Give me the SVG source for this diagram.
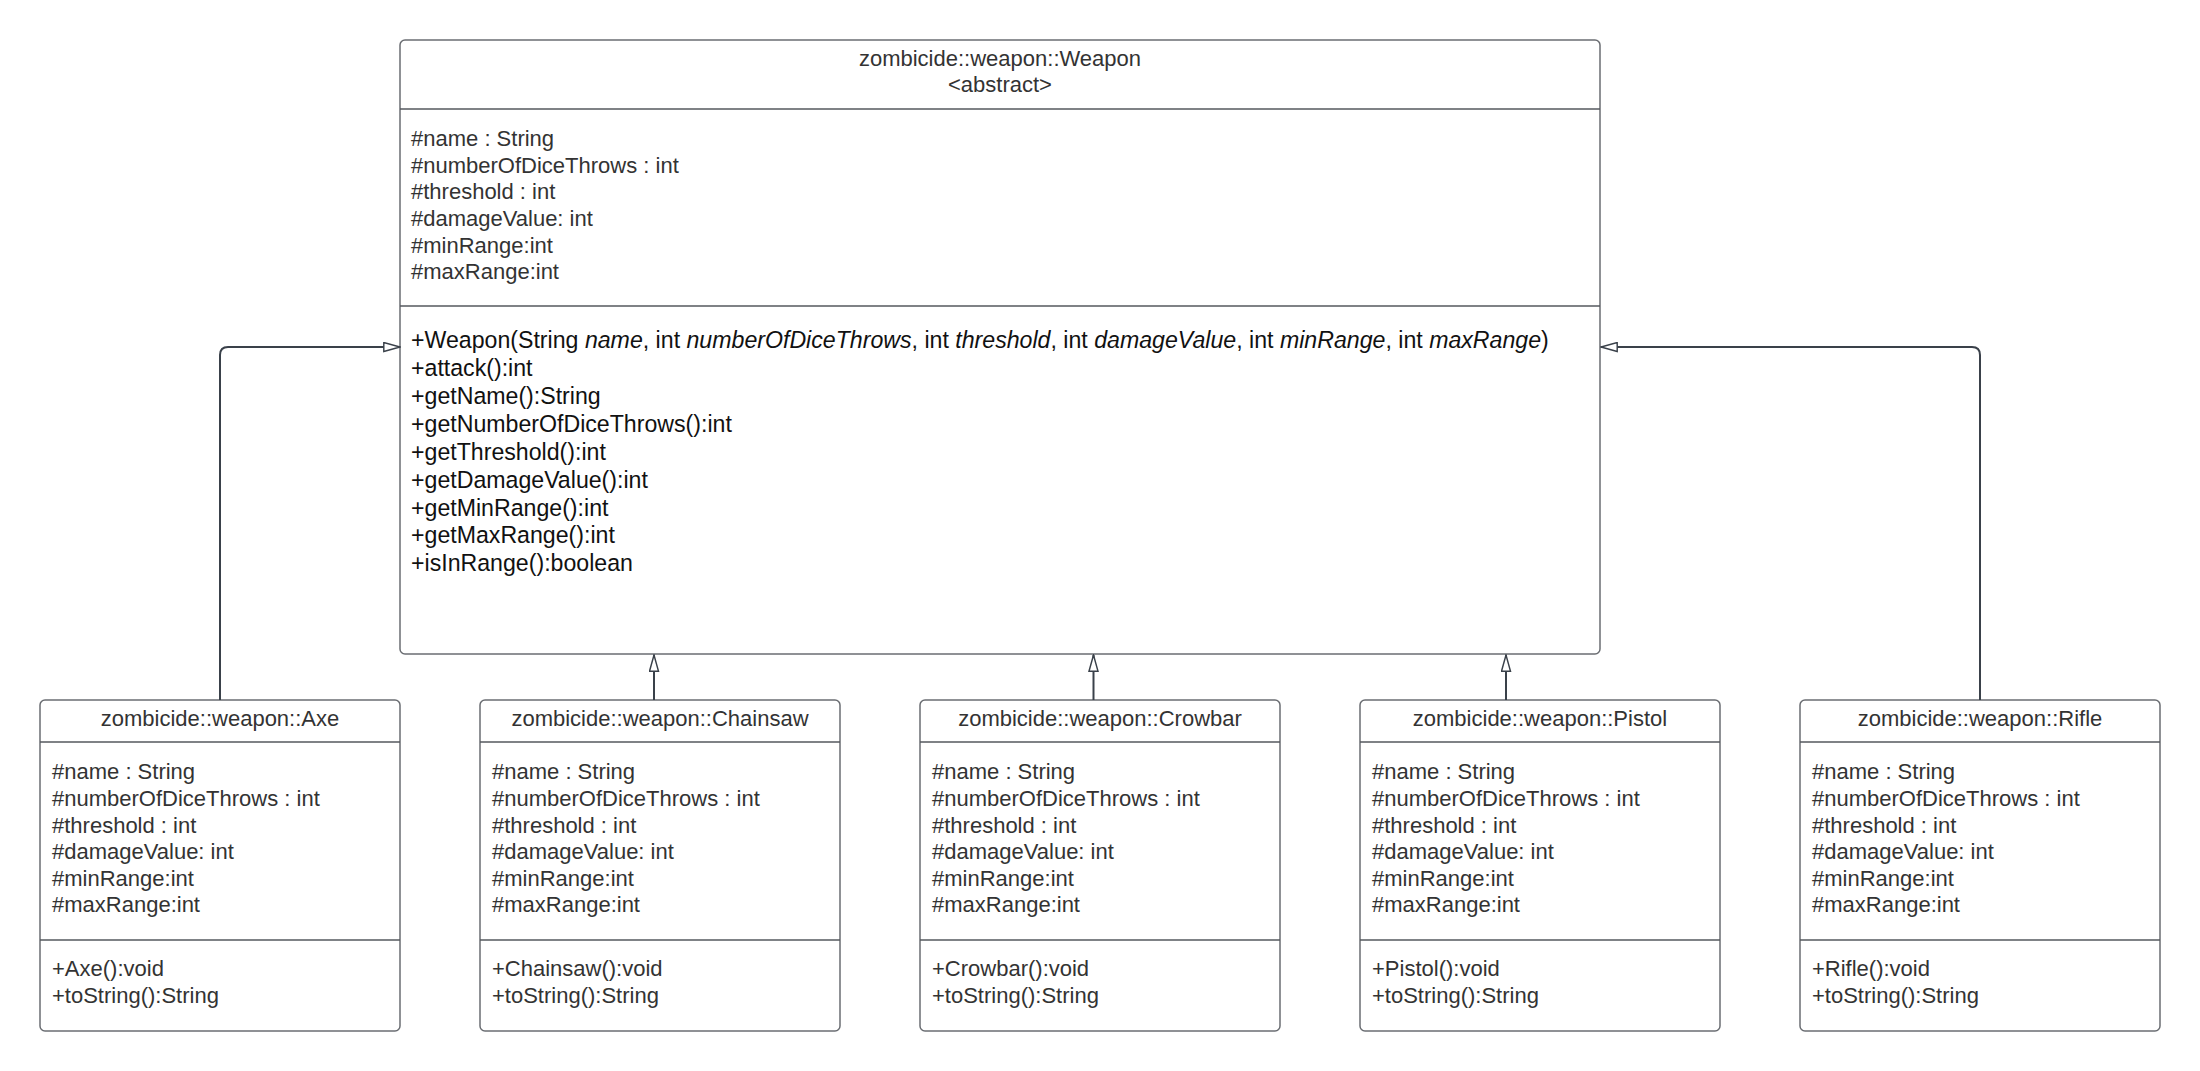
<svg xmlns="http://www.w3.org/2000/svg" width="2200" height="1071" viewBox="0 0 2200 1071">
<defs>
<style>
.box{fill:#ffffff;stroke:#6b6e73;stroke-width:1.5}
.div{stroke:#55595e;stroke-width:1.5}
.t{font-family:"Liberation Sans",Arial,sans-serif;font-size:22px;fill:#333333}
.title{text-anchor:middle}
.m{fill:#111111}
.big{font-size:23.15px}
.conn{fill:none;stroke:#3a414a;stroke-width:2}
</style>
<marker id="gen" viewBox="0 0 20 12" refX="19" refY="6" markerWidth="18" markerHeight="11" markerUnits="userSpaceOnUse" orient="auto">
<path d="M1,1 L19,6 L1,11 Z" fill="#ffffff" stroke="#3a414a" stroke-width="1.6"/>
</marker>
</defs>
<rect width="2200" height="1071" fill="#ffffff"/>

<g id="Weapon">
<rect class="box" x="400" y="40" width="1200" height="614" rx="5"/>
<line class="div" x1="400" y1="109" x2="1600" y2="109"/>
<line class="div" x1="400" y1="306" x2="1600" y2="306"/>
<text class="t title" x="1000" y="66">zombicide::weapon::Weapon</text>
<text class="t title" x="1000" y="92">&lt;abstract&gt;</text>
<text class="t" x="411" y="146">#name : String</text>
<text class="t" x="411" y="173">#numberOfDiceThrows : int</text>
<text class="t" x="411" y="199">#threshold : int</text>
<text class="t" x="411" y="226">#damageValue: int</text>
<text class="t" x="411" y="253">#minRange:int</text>
<text class="t" x="411" y="279">#maxRange:int</text>
<text class="t m big" x="411" y="348">+Weapon(String <tspan font-style="italic">name</tspan>, int <tspan font-style="italic">numberOfDiceThrows</tspan>, int <tspan font-style="italic">threshold</tspan>, int <tspan font-style="italic">damageValue</tspan>, int <tspan font-style="italic">minRange</tspan>, int <tspan font-style="italic">maxRange</tspan>)</text>
<text class="t m big" x="411" y="376">+attack():int</text>
<text class="t m big" x="411" y="404">+getName():String</text>
<text class="t m big" x="411" y="432">+getNumberOfDiceThrows():int</text>
<text class="t m big" x="411" y="460">+getThreshold():int</text>
<text class="t m big" x="411" y="488">+getDamageValue():int</text>
<text class="t m big" x="411" y="516">+getMinRange():int</text>
<text class="t m big" x="411" y="543">+getMaxRange():int</text>
<text class="t m big" x="411" y="571">+isInRange():boolean</text>
</g>

<g id="Axe">
<rect class="box" x="40" y="700" width="360" height="331" rx="5"/>
<line class="div" x1="40" y1="742" x2="400" y2="742"/>
<line class="div" x1="40" y1="940" x2="400" y2="940"/>
<text class="t title" x="220" y="726">zombicide::weapon::Axe</text>
<text class="t" x="52" y="779">#name : String</text>
<text class="t" x="52" y="806">#numberOfDiceThrows : int</text>
<text class="t" x="52" y="833">#threshold : int</text>
<text class="t" x="52" y="859">#damageValue: int</text>
<text class="t" x="52" y="886">#minRange:int</text>
<text class="t" x="52" y="912">#maxRange:int</text>
<text class="t" x="52" y="976">+Axe():void</text>
<text class="t" x="52" y="1003">+toString():String</text>
</g>

<g id="Chainsaw">
<rect class="box" x="480" y="700" width="360" height="331" rx="5"/>
<line class="div" x1="480" y1="742" x2="840" y2="742"/>
<line class="div" x1="480" y1="940" x2="840" y2="940"/>
<text class="t title" x="660" y="726">zombicide::weapon::Chainsaw</text>
<text class="t" x="492" y="779">#name : String</text>
<text class="t" x="492" y="806">#numberOfDiceThrows : int</text>
<text class="t" x="492" y="833">#threshold : int</text>
<text class="t" x="492" y="859">#damageValue: int</text>
<text class="t" x="492" y="886">#minRange:int</text>
<text class="t" x="492" y="912">#maxRange:int</text>
<text class="t" x="492" y="976">+Chainsaw():void</text>
<text class="t" x="492" y="1003">+toString():String</text>
</g>

<g id="Crowbar">
<rect class="box" x="920" y="700" width="360" height="331" rx="5"/>
<line class="div" x1="920" y1="742" x2="1280" y2="742"/>
<line class="div" x1="920" y1="940" x2="1280" y2="940"/>
<text class="t title" x="1100" y="726">zombicide::weapon::Crowbar</text>
<text class="t" x="932" y="779">#name : String</text>
<text class="t" x="932" y="806">#numberOfDiceThrows : int</text>
<text class="t" x="932" y="833">#threshold : int</text>
<text class="t" x="932" y="859">#damageValue: int</text>
<text class="t" x="932" y="886">#minRange:int</text>
<text class="t" x="932" y="912">#maxRange:int</text>
<text class="t" x="932" y="976">+Crowbar():void</text>
<text class="t" x="932" y="1003">+toString():String</text>
</g>

<g id="Pistol">
<rect class="box" x="1360" y="700" width="360" height="331" rx="5"/>
<line class="div" x1="1360" y1="742" x2="1720" y2="742"/>
<line class="div" x1="1360" y1="940" x2="1720" y2="940"/>
<text class="t title" x="1540" y="726">zombicide::weapon::Pistol</text>
<text class="t" x="1372" y="779">#name : String</text>
<text class="t" x="1372" y="806">#numberOfDiceThrows : int</text>
<text class="t" x="1372" y="833">#threshold : int</text>
<text class="t" x="1372" y="859">#damageValue: int</text>
<text class="t" x="1372" y="886">#minRange:int</text>
<text class="t" x="1372" y="912">#maxRange:int</text>
<text class="t" x="1372" y="976">+Pistol():void</text>
<text class="t" x="1372" y="1003">+toString():String</text>
</g>

<g id="Rifle">
<rect class="box" x="1800" y="700" width="360" height="331" rx="5"/>
<line class="div" x1="1800" y1="742" x2="2160" y2="742"/>
<line class="div" x1="1800" y1="940" x2="2160" y2="940"/>
<text class="t title" x="1980" y="726">zombicide::weapon::Rifle</text>
<text class="t" x="1812" y="779">#name : String</text>
<text class="t" x="1812" y="806">#numberOfDiceThrows : int</text>
<text class="t" x="1812" y="833">#threshold : int</text>
<text class="t" x="1812" y="859">#damageValue: int</text>
<text class="t" x="1812" y="886">#minRange:int</text>
<text class="t" x="1812" y="912">#maxRange:int</text>
<text class="t" x="1812" y="976">+Rifle():void</text>
<text class="t" x="1812" y="1003">+toString():String</text>
</g>

<g id="connectors">
<path class="conn" d="M220,700 L220,355 Q220,347 228,347 L400,347" marker-end="url(#gen)"/>
<path class="conn" d="M654,700 L654,655" marker-end="url(#gen)"/>
<path class="conn" d="M1093.5,700 L1093.5,655" marker-end="url(#gen)"/>
<path class="conn" d="M1506,700 L1506,655" marker-end="url(#gen)"/>
<path class="conn" d="M1980,700 L1980,355 Q1980,347 1972,347 L1601,347" marker-end="url(#gen)"/>
</g>
</svg>
